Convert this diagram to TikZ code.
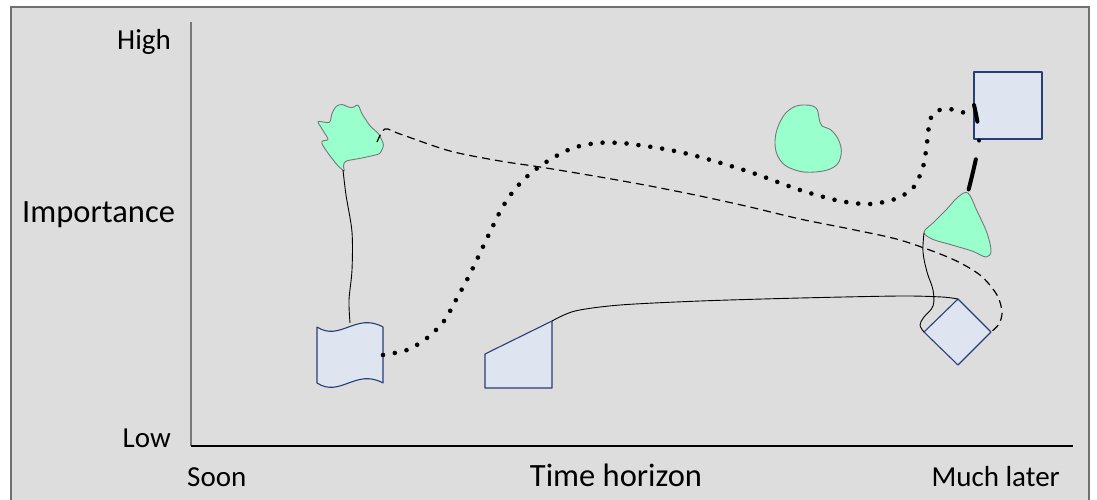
\documentclass[tikz,border=0pt]{standalone}
\usepackage{fontspec}
\setmainfont{Carlito}
\definecolor{bgcol}{RGB}{221,221,221}
\definecolor{framecol}{RGB}{112,112,112}
\definecolor{mint}{RGB}{153,255,204}
\definecolor{mintline}{RGB}{120,120,120}
\definecolor{boxfill}{RGB}{222,229,240}
\definecolor{boxline}{RGB}{40,62,120}
\definecolor{axiscol}{RGB}{120,120,120}
\tikzset{
  blob/.style={fill=mint, draw=mintline, line width=0.9pt},
  boxshape/.style={fill=boxfill, draw=boxline, line width=1.1pt, line join=round},
  label/.style={inner sep=0pt, font=\fontsize{29}{34}\selectfont},
  biglabel/.style={inner sep=0pt, font=\fontsize{32.5}{38}\selectfont},
  thinlink/.style={draw=black, line width=0.9pt},
  dashlink/.style={draw=black, line width=1.2pt, dash pattern=on 8pt off 5pt},
  dotlink/.style={draw=black, line width=4.6pt, line cap=round, dash pattern=on 0pt off 12pt},
  heavylink/.style={draw=black, line width=4pt, line cap=round}
}
\begin{document}
\begin{tikzpicture}[x=1pt, y=-1pt]
\useasboundingbox (0,0) rectangle (1097,499);
% panel
\fill[bgcol] (11,7) rectangle (1089,530);
\draw[framecol, line width=2.5pt] (11,530) -- (11,7) -- (1089,7) -- (1089,530);

% axes
\draw[axiscol, line width=1.4pt] (191,22) -- (191,446);
\draw[black, line width=1.2pt] (191,446) -- (1073,446);

% axis labels
\node[label, anchor=base east] (high) at (171,49) {High};
\node[biglabel, anchor=base west] (imp) at (22,222) {Importance};
\node[label, anchor=base east] (low) at (171,447) {Low};
\node[label, anchor=base west] (soon) at (187,486) {Soon};
\node[biglabel, anchor=base] (time) at (616,486) {Time horizon};
\node[label, anchor=base east] (later) at (1060,486) {Much later};

% ragged green shape, upper left
\draw[blob, rounded corners=2.5pt] (317,121) -- (330,123) -- (332,113) -- (336,106) -- (342,104)
  -- (348,107) -- (353,108) -- (358,104) -- (362,114) -- (370,126) -- (379,134)
  -- (384,145) -- (380,154) -- (362,158) -- (345,161) -- (343,166) -- (345,172)
  -- (338,166) -- (330,156) -- (323,146) -- (321,141) -- (329,140) -- cycle;

% wavy tape shape
\draw[boxshape] (317,327) .. controls (340,342) and (356,312) .. (383,327)
  -- (383,383) .. controls (356,368) and (340,398) .. (317,383) -- cycle;

% manual-input shape
\draw[boxshape] (485,354) -- (552,321) -- (552,388) -- (485,388) -- cycle;

% kidney shape
\draw[blob] plot[smooth cycle, tension=0.7] coordinates {(805,105) (816,108) (819,118) (822,126) (831,130) (839,141) (841,155) (834,167) (815,172) (795,170) (780,160) (775,141) (781,120) (792,108)};

% square, upper right
\draw[boxshape] (974,72) rectangle (1042,139);

% rounded triangle shape
\draw[blob] plot[smooth cycle, tension=0.55] coordinates {(968,193) (958,197) (946,210) (934,222) (924,232) (932,239) (952,245) (972,251) (986,257) (991,251) (987,233) (977,211)};

% diamond
\draw[boxshape] (958,299) -- (991,332) -- (958,365) -- (924,332) -- cycle;

% connection points
\coordinate (ragged-s) at (343,170);
\coordinate (ragged-e) at (377,142);
\coordinate (tape-n) at (350,323);
\coordinate (tape-e) at (383,355);
\coordinate (input-ne) at (552,321);
\coordinate (square-w) at (974,117);
\coordinate (square-t) at (974,105);
\coordinate (tri-n) at (968,192);
\coordinate (tri-w) at (924,233);
\coordinate (dia-n) at (958,299);
\coordinate (dia-e) at (991,332);
\coordinate (dia-w) at (924,332);

% connectors
\draw[thinlink] plot[smooth] coordinates {(ragged-s) (346,195) (352,232) (352,270) (349,300) (tape-n)};
\draw[thinlink] plot[smooth] coordinates {(input-ne) (575,311) (620,305) (700,301) (800,298) (900,296) (942,297) (dia-n)};
\draw[thinlink] plot[smooth, tension=0.6] coordinates {(tri-w) (923,252) (927,272) (933,290) (933,306) (924,317) (920,325) (dia-w)};
\draw[dashlink] plot[smooth, tension=0.5] coordinates {(ragged-e) (385,129) (400,134) (450,151) (500,161) (540,167) (600,177) (650,186) (700,196) (750,207) (800,219) (850,229) (900,240) (950,258) (980,275) (997,295) (1002,312) (999,324) (dia-e)};
\draw[dotlink] plot[smooth] coordinates {(tape-e) (407,350) (427,338) (444,321) (457,298) (469,276) (480,253) (491,230) (502,208) (515,189) (531,173) (551,159) (573,148) (597,143) (621,143) (645,146) (670,150) (700,157) (750,172) (800,190) (840,201) (870,204) (895,199) (913,188) (923,167) (927,143) (930,120) (937,111) (949,109) (962,112) (square-w)};
\draw[heavylink, dash pattern=on 17pt off 19pt on 0pt off 19pt on 31pt off 20pt] plot[smooth] coordinates {(square-t) (979,141) (tri-n)};
\end{tikzpicture}
\end{document}
